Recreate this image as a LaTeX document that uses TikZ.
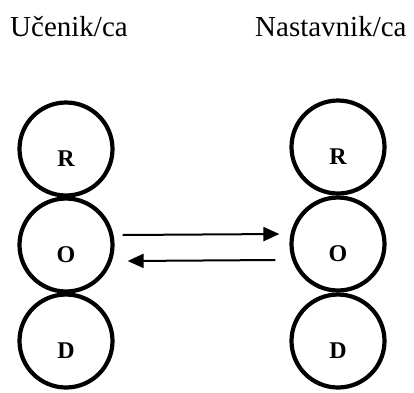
\documentclass[tikz,border=0pt]{standalone}
\usepackage{fontspec}
\setmainfont{Liberation Serif}
\usetikzlibrary{arrows.meta}

\begin{document}
\begin{tikzpicture}[x=1pt, y=1pt,
    ring/.style={circle, draw=black, line width=4.2pt, minimum size=93pt, inner sep=0pt},
    letter/.style={font=\fontsize{24}{24}\selectfont\bfseries, yshift=-10pt},
    title/.style={font=\fontsize{29}{29}\selectfont, anchor=base west, inner sep=0pt},
    flow/.style={line width=2pt, -{Triangle[length=16pt, width=14pt]}}]
  \useasboundingbox (0,0) rectangle (414,-392);

  % Column titles
  \node[title] (ucenik) at (10,-36) {Učenik/ca};
  \node[title] (nastavnik) at (255,-36) {Nastavnik/ca};

  % Left column (student)
  \node[ring, label={[letter]center:R}] (lR) at (66,-149) {};
  \node[ring, label={[letter]center:O}] (lO) at (66,-245) {};
  \node[ring, label={[letter]center:D}] (lD) at (66,-341) {};

  % Right column (teacher)
  \node[ring, label={[letter]center:R}] (rR) at (338,-147) {};
  \node[ring, label={[letter]center:O}] (rO) at (338,-244) {};
  \node[ring, label={[letter]center:D}] (rD) at (338,-341) {};

  % Exchange between the middle circles
  \draw[flow] ([xshift=8pt, yshift=10pt]lO.east) -- ([xshift=-10pt, yshift=10pt]rO.west);
  \draw[flow] ([xshift=-14pt, yshift=-16pt]rO.west) -- ([xshift=13pt, yshift=-16pt]lO.east);

\end{tikzpicture}
\end{document}
